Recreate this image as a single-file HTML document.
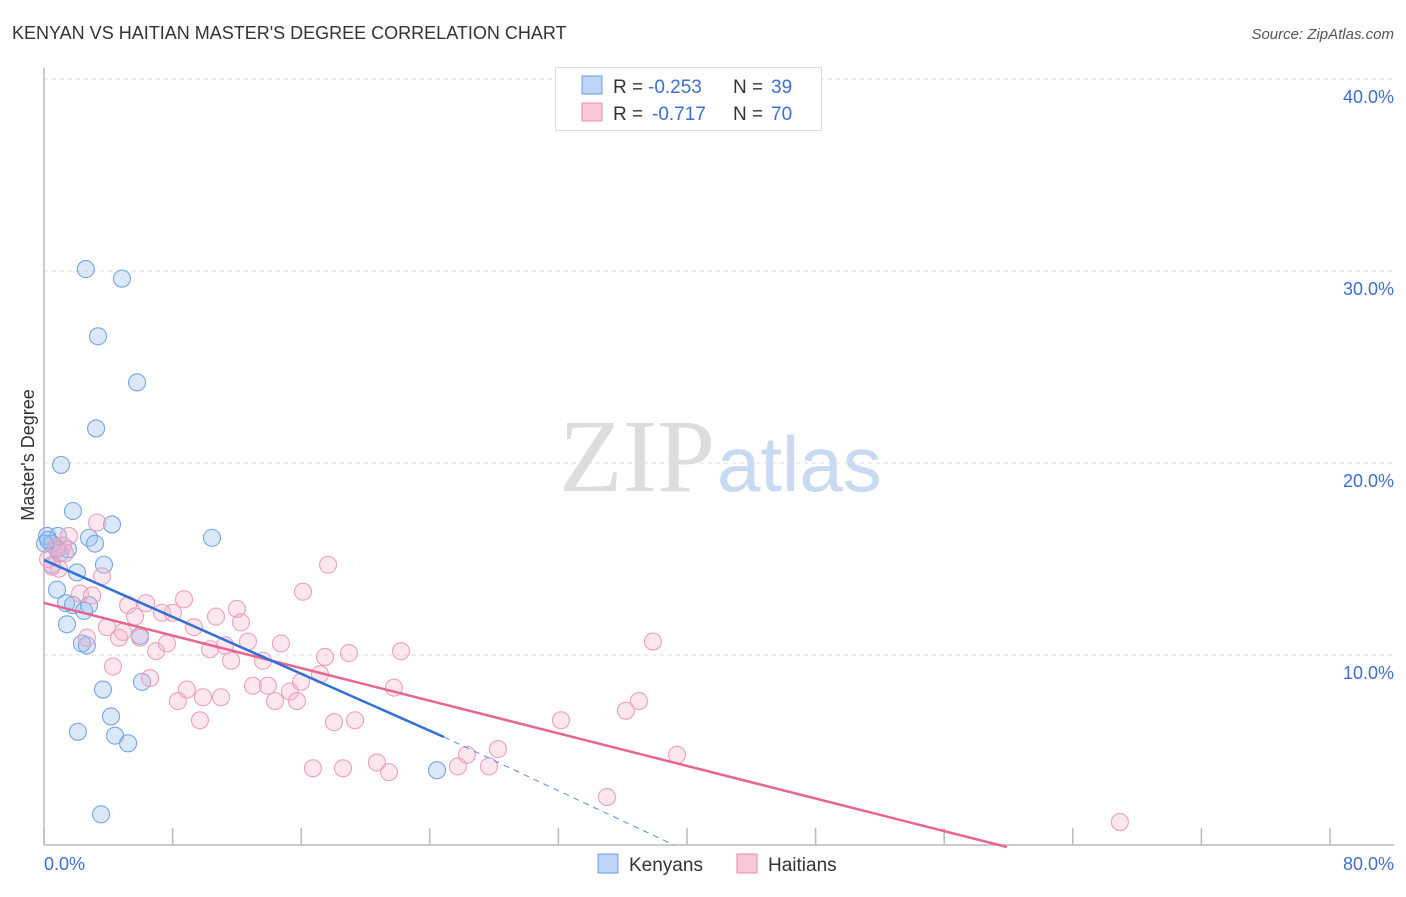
<!DOCTYPE html>
<html><head><meta charset="utf-8"><style>
body{margin:0;background:#fff;font-family:"Liberation Sans",sans-serif;}
</style></head><body>
<svg id="c" width="1406" height="892" xmlns="http://www.w3.org/2000/svg" style="font-family:'Liberation Sans',sans-serif">
<text x="12" y="39" font-size="18" fill="#333">KENYAN VS HAITIAN MASTER'S DEGREE CORRELATION CHART</text>
<text x="1394" y="39" font-size="15" fill="#555" font-style="italic" text-anchor="end">Source: ZipAtlas.com</text>
<text x="715" y="491" font-size="104" fill="#ddd" font-family="Liberation Serif,serif" text-anchor="end">ZIP</text>
<text x="717" y="491" font-size="78" fill="#c8daf2">atlas</text>
<g id="grid"></g><g id="pts"></g><g id="lines"></g>
<text transform="translate(34,455) rotate(-90)" font-size="18" fill="#333" text-anchor="middle">Master's Degree</text>
<text x="44" y="870" font-size="18" fill="#3b6fd4">0.0%</text>
<text x="1394" y="870" font-size="18" fill="#3b6fd4" text-anchor="end">80.0%</text>
<g>
<rect x="555.5" y="67.5" width="266" height="63" fill="#fff" stroke="#ddd"/>
<rect x="582" y="76" width="20" height="18" fill="#bcd4f6" stroke="#6b9ce0"/>
<rect x="582" y="103" width="20" height="18" fill="#f9c8d7" stroke="#e88aa8"/>
<text x="613" y="93" font-size="19" fill="#333">R =</text>
<text x="648" y="93" font-size="19" fill="#3b6fd4">-0.253</text>
<text x="733" y="93" font-size="19" fill="#333">N =</text>
<text x="771" y="93" font-size="19" fill="#3b6fd4">39</text>
<text x="613" y="120" font-size="19" fill="#333">R =</text>
<text x="652" y="120" font-size="19" fill="#3b6fd4">-0.717</text>
<text x="733" y="120" font-size="19" fill="#333">N =</text>
<text x="771" y="120" font-size="19" fill="#3b6fd4">70</text>
</g>
<g><rect x="598" y="854" width="20" height="19" fill="#bcd4f6" stroke="#6b9ce0"/><text x="629" y="871" font-size="19" fill="#333">Kenyans</text></g>
<g><rect x="737" y="854" width="20" height="19" fill="#f9c8d7" stroke="#e88aa8"/><text x="768" y="871" font-size="19" fill="#333">Haitians</text></g>
</svg>
<script>
const yTicks=[10,20,30,40];
const xTicks=[0,8,16,24,32,40,48,56,64,72,80];
const kenyanX=[2.6,4.85,3.36,5.79,3.24,1.06,1.8,4.23,10.45,0.19,0.87,2.8,0.5,3.17,1.49,0.81,3.73,0.5,2.05,0.81,1.37,1.8,2.8,1.43,2.49,2.36,2.67,5.97,6.1,3.67,4.17,2.11,4.42,5.23,24.45,3.55,0.06,0.99,0.25];
const kenyanY=[30.1,29.6,26.6,24.2,21.8,19.9,17.5,16.8,16.1,16.2,16.2,16.1,15.8,15.8,15.5,15.5,14.7,14.7,14.3,13.4,12.7,12.6,12.6,11.6,12.3,10.6,10.5,11.0,8.6,8.2,6.8,6.0,5.8,5.4,4.0,1.7,15.8,15.3,16.0];
const haitianX=[3.3,1.55,1.18,0.5,0.93,3.61,2.24,2.99,5.23,6.35,8.71,5.66,7.34,8.02,10.7,12.0,12.25,9.33,3.92,4.67,4.92,2.67,5.97,6.97,7.65,10.33,11.26,12.69,11.64,13.62,14.74,16.11,17.67,17.48,17.17,4.29,6.6,8.89,8.33,9.89,11.01,9.7,13.0,13.93,14.37,15.3,15.74,15.99,18.04,16.73,18.6,18.97,22.21,21.77,19.35,20.71,21.46,25.75,26.31,28.24,27.68,32.16,36.2,37.01,37.88,39.38,35.02,66.93,0.25,0.75,1.31];
const haitianY=[16.9,16.2,15.7,14.6,14.5,14.1,13.2,13.1,12.6,12.7,12.9,12.0,12.2,12.2,12.0,12.4,11.7,11.45,11.45,10.9,11.2,10.9,10.9,10.2,10.6,10.3,10.5,10.7,9.7,9.7,10.6,13.3,14.7,9.9,9.0,9.4,8.8,8.2,7.6,7.8,7.8,6.6,8.4,8.4,7.6,8.1,7.6,8.6,6.5,4.1,4.1,10.1,10.2,8.3,6.6,4.4,3.9,4.2,4.8,5.1,4.2,6.6,7.1,7.6,10.7,4.8,2.6,1.3,15.0,15.6,15.3];
const kenyanLine=[[0,14.95],[24.88,5.73]];
const kenyanDash=[[24.88,5.73],[39.2,0.1]];
const haitianLine=[[0,12.71],[59.9,0]];
const NS='http://www.w3.org/2000/svg';
function sx(v){return 44+v*16.075;}
function sy(v){return 847-v*19.2;}
function mk(t,a,p){const e=document.createElementNS(NS,t);for(const k in a)e.setAttribute(k,a[k]);p.appendChild(e);return e;}
const grid=document.getElementById('grid');
const gl=mk('line',{x1:44,x2:1394,y1:79,y2:79,stroke:'#ddd','stroke-dasharray':'4,4'},grid);


yTicks.forEach(t=>{
 const l=mk('line',{x1:44,x2:1394,y1:sy(t),y2:sy(t),stroke:'#ddd','stroke-dasharray':'4,4'},grid);
 
 
 const tx=mk('text',{x:1394,y:sy(t)+24,'font-size':18,fill:'#3b6fd4','text-anchor':'end'},grid);
 tx.textContent=t.toFixed(1)+'%';
 
 
});
const ax=mk('line',{x1:44,x2:44,y1:68,y2:845,stroke:'#bbb','stroke-width':1.5},grid);


const bx=mk('line',{x1:44,x2:1394,y1:845,y2:845,stroke:'#bbb','stroke-width':1.5},grid);


xTicks.forEach(t=>{
 const l=mk('line',{x1:sx(t),x2:sx(t),y1:828,y2:845,stroke:'#bbb','stroke-width':1.5},grid);
 
 
});
const pts=document.getElementById('pts');
kenyanX.forEach((x,i)=>{
 const c=mk('circle',{cx:sx(x),cy:sy(kenyanY[i]),r:8.5,fill:'rgba(150,188,240,0.35)',stroke:'#78a6e4','stroke-width':1.1},pts);
 
 
});
haitianX.forEach((x,i)=>{
 const c=mk('circle',{cx:sx(x),cy:sy(haitianY[i]),r:8.5,fill:'rgba(246,176,200,0.3)',stroke:'#efa0b9','stroke-width':1.1},pts);
 
 
});
const lines=document.getElementById('lines');
const hl=mk('line',{x1:sx(haitianLine[0][0]),y1:sy(haitianLine[0][1]),x2:sx(haitianLine[1][0]),y2:sy(haitianLine[1][1]),stroke:'#e8658f','stroke-width':2.5},lines);


const kl=mk('line',{x1:sx(kenyanLine[0][0]),y1:sy(kenyanLine[0][1]),x2:sx(kenyanLine[1][0]),y2:sy(kenyanLine[1][1]),stroke:'#2f6fd6','stroke-width':2.5},lines);


const kd=mk('line',{x1:sx(kenyanDash[0][0]),y1:sy(kenyanDash[0][1]),x2:sx(kenyanDash[1][0]),y2:sy(kenyanDash[1][1]),stroke:'#5a8ee0','stroke-width':1,'stroke-dasharray':'6,5'},lines);


</script>
</body></html>
